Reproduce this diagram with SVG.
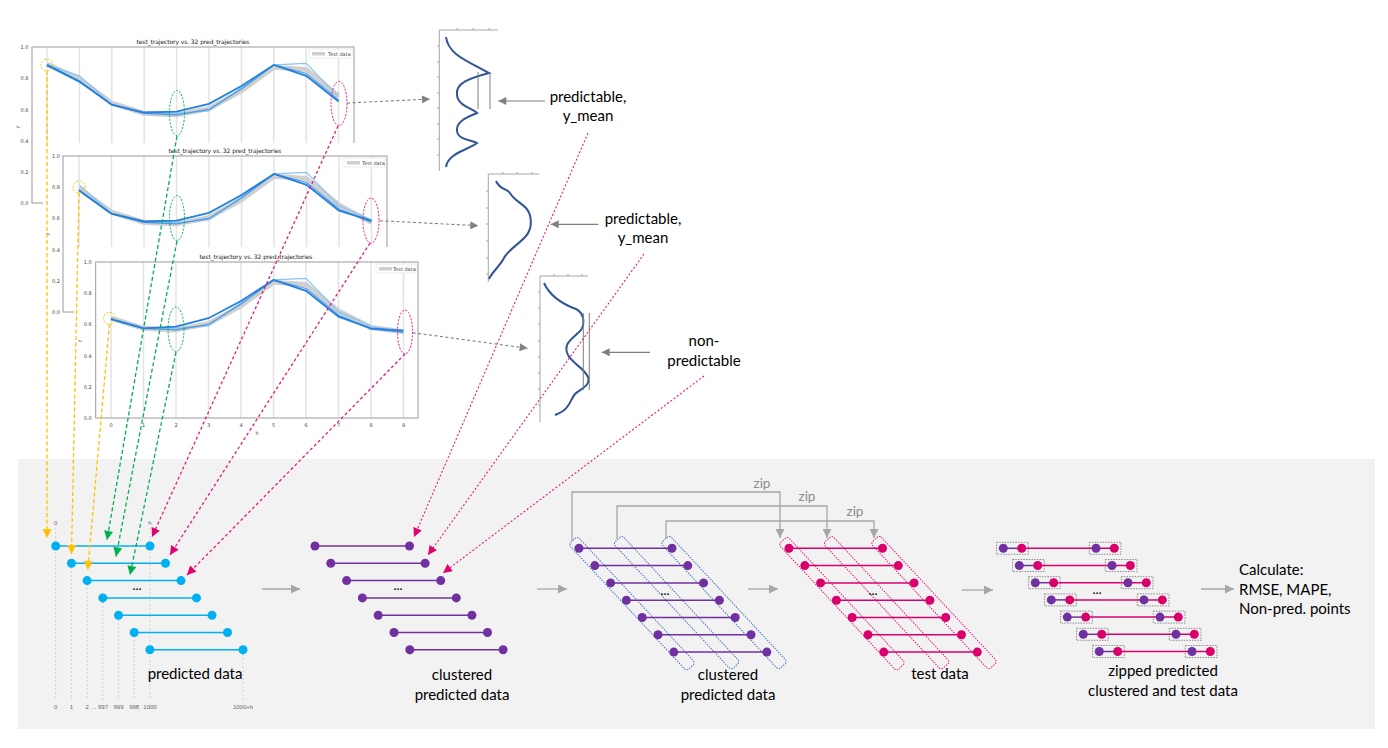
<svg xmlns="http://www.w3.org/2000/svg" width="1388" height="748" viewBox="0 0 1388 748">
<defs>
<style>
.t{font-family:Lato,"Liberation Sans",Arial,sans-serif;fill:#000}
.lbl{font-size:15px}
.zip{font-size:13.5px;fill:#8c8c8c;text-anchor:middle}
.ax{font-family:"DejaVu Sans","Liberation Sans",sans-serif;font-size:5px;fill:#444}
.ttl{font-family:"DejaVu Sans","Liberation Sans",sans-serif;font-size:6px;fill:#222}
.sm{font-family:"Liberation Sans",Arial,sans-serif;font-size:6px;fill:#666;text-anchor:middle}
.frame{fill:none;stroke:#9a9a9a;stroke-width:1}
.grid{stroke:#e3e3e3;stroke-width:1.5}
.band{fill:none;stroke:#cfcfcf;stroke-width:5;stroke-linejoin:round}
.p1{fill:none;stroke:#8cc4f5;stroke-width:1.2}
.p2{fill:none;stroke:#4a9be6;stroke-width:1.2}
.pm{fill:none;stroke:#2180e0;stroke-width:1.8}
.ey{fill:none;stroke:#ffc000;stroke-width:1;stroke-dasharray:2 1.5}
.eg{fill:none;stroke:#00b050;stroke-width:1;stroke-dasharray:2 1.5}
.ep{fill:none;stroke:#e6197d;stroke-width:1;stroke-dasharray:2 1.5}
.dax{fill:none;stroke:#a6a6a6;stroke-width:1}
.dcur{fill:none;stroke:#2f5597;stroke-width:2}
.bl{stroke:#00b0f0;stroke-width:1.5}
.bd{fill:#00b0f0}
.pl{stroke:#7030a0;stroke-width:1.5}
.pd{fill:#7030a0}
.kl{stroke:#d9006c;stroke-width:1.5}
.kd{fill:#d9006c}
.vd{stroke:#c8c8c8;stroke-width:0.8;stroke-dasharray:2 2}
.rb{fill:none;stroke:#4472c4;stroke-width:1;stroke-dasharray:1.5 1.2}
.rk{fill:none;stroke:#e6197d;stroke-width:1;stroke-dasharray:1.5 1.2}
.zb{fill:none;stroke:#7f7f7f;stroke-width:0.9;stroke-dasharray:1.5 1.2}
.ga{stroke:#a6a6a6;stroke-width:1.3;fill:none}
.cy{stroke:#ffc000;stroke-width:1.3;stroke-dasharray:4 2.5;fill:none}
.cg{stroke:#00b050;stroke-width:1.3;stroke-dasharray:4 2.5;fill:none}
.cp{stroke:#e6197d;stroke-width:1.3;stroke-dasharray:3 2.5;fill:none}
.cp2{stroke:#e6197d;stroke-width:1.1;stroke-dasharray:2 2;fill:none}
.cgr{stroke:#808080;stroke-width:1.1;stroke-dasharray:3 2.5;fill:none}
</style>
<marker id="mY" viewBox="0 0 10 10" refX="10" refY="5" markerUnits="userSpaceOnUse" markerWidth="10" markerHeight="9" orient="auto"><path d="M0,0 L10,5 L0,10 z" fill="#ffc000"/></marker>
<marker id="mG" viewBox="0 0 10 10" refX="10" refY="5" markerUnits="userSpaceOnUse" markerWidth="10" markerHeight="9" orient="auto"><path d="M0,0 L10,5 L0,10 z" fill="#00b050"/></marker>
<marker id="mP" viewBox="0 0 10 10" refX="10" refY="5" markerUnits="userSpaceOnUse" markerWidth="10" markerHeight="9" orient="auto"><path d="M0,0 L10,5 L0,10 z" fill="#e0006e"/></marker>
<marker id="mK" viewBox="0 0 10 10" refX="10" refY="5" markerUnits="userSpaceOnUse" markerWidth="9" markerHeight="8" orient="auto"><path d="M0,0 L10,5 L0,10 z" fill="#808080"/></marker>
<marker id="mA" viewBox="0 0 10 10" refX="10" refY="5" markerUnits="userSpaceOnUse" markerWidth="9" markerHeight="9" orient="auto"><path d="M0,0 L10,5 L0,10 z" fill="#a6a6a6"/></marker>
</defs>
<rect width="1388" height="748" fill="#fff"/>
<rect id="panel" x="18" y="459" width="1357" height="270" fill="#f2f2f2"/>

<g id="chart1">
<text class="ttl" x="193" y="44" text-anchor="middle" textLength="113">test_trajectory vs. 32 pred_trajectories</text>
<g class="grid"><line x1="47" y1="47" x2="47" y2="203"/><line x1="79.4" y1="47" x2="79.4" y2="203"/><line x1="111.8" y1="47" x2="111.8" y2="203"/><line x1="144.2" y1="47" x2="144.2" y2="203"/><line x1="176.6" y1="47" x2="176.6" y2="203"/><line x1="209" y1="47" x2="209" y2="203"/><line x1="241.4" y1="47" x2="241.4" y2="203"/><line x1="273.8" y1="47" x2="273.8" y2="203"/><line x1="306.2" y1="47" x2="306.2" y2="203"/><line x1="338.6" y1="47" x2="338.6" y2="203"/></g>
<rect class="frame" x="32" y="47" width="322" height="156"/>
<g class="ax" text-anchor="end"><text x="28.5" y="49">1.0</text><text x="28.5" y="80">0.8</text><text x="28.5" y="111.5">0.6</text><text x="28.5" y="143">0.4</text><text x="28.5" y="174">0.2</text><text x="28.5" y="205">0.0</text></g>
<text class="ax" transform="translate(19,127) rotate(-90)" text-anchor="middle">y</text>
<polyline class="band" points="47,64.2 79.4,79 111.8,103.2 144.2,113.3 176.6,114.9 209,108.6 241.4,90.7 273.8,67.3 306.2,69.6 338.6,96.1"/>
<polyline class="p1" points="47,64.9 79.4,75.9 111.8,104.7 144.2,113.3 176.6,113.3 209,111 241.4,87.6 273.8,64.9 306.2,63.4 338.6,96.9"/>
<polyline class="p2" points="47,65.7 79.4,82.1 111.8,104.7 144.2,113.3 176.6,114.9 209,109.4 241.4,89.1 273.8,64.9 306.2,73.5 338.6,100"/>
<polyline class="pm" points="47,64.9 79.4,81.3 111.8,104.7 144.2,112.5 176.6,111.7 209,103.9 241.4,86 273.8,64.9 306.2,75.9 338.6,101.6"/>
<rect x="309" y="49" width="44" height="9" fill="#fff" stroke="#ddd" stroke-width="0.6"/>
<rect x="312" y="52" width="13" height="3.5" fill="#cfcfcf"/>
<text class="ax" x="328" y="56">Test data</text>
<circle class="ey" cx="47" cy="65" r="6"/>
<ellipse class="eg" cx="177" cy="113" rx="7.5" ry="22.5"/>
<ellipse class="ep" cx="339" cy="103.5" rx="8" ry="22"/>
</g>

<g id="chart2">
<rect x="43" y="143" width="347" height="180" fill="#fff"/>
<text class="ttl" x="225" y="152.5" text-anchor="middle" textLength="113">test_trajectory vs. 32 pred_trajectories</text>
<g class="grid"><line x1="79" y1="156" x2="79" y2="312"/><line x1="111.5" y1="156" x2="111.5" y2="312"/><line x1="144" y1="156" x2="144" y2="312"/><line x1="176.5" y1="156" x2="176.5" y2="312"/><line x1="209" y1="156" x2="209" y2="312"/><line x1="241.5" y1="156" x2="241.5" y2="312"/><line x1="274" y1="156" x2="274" y2="312"/><line x1="306.5" y1="156" x2="306.5" y2="312"/><line x1="339" y1="156" x2="339" y2="312"/><line x1="371.5" y1="156" x2="371.5" y2="312"/></g>
<rect class="frame" x="63" y="156" width="324" height="156"/>
<g class="ax" text-anchor="end"><text x="60" y="158">1.0</text><text x="60" y="189">0.8</text><text x="60" y="220">0.6</text><text x="60" y="252">0.4</text><text x="60" y="283">0.2</text><text x="60" y="314">0.0</text></g>
<text class="ax" transform="translate(49,234) rotate(-90)" text-anchor="middle">y</text>
<polyline class="band" points="79,188 111.5,212.2 144,222.3 176.5,223.9 209,217.6 241.5,199.7 274,176.3 306.5,178.6 339,205.1 371.5,222.3"/>
<polyline class="p1" points="79,184.9 111.5,213.7 144,222.3 176.5,222.3 209,220 241.5,196.6 274,173.9 306.5,172.4 339,205.9 371.5,220"/>
<polyline class="p2" points="79,191.1 111.5,213.7 144,222.3 176.5,223.9 209,218.4 241.5,198.1 274,173.9 306.5,182.5 339,209 371.5,222.3"/>
<polyline class="pm" points="79,190.3 111.5,213.7 144,221.5 176.5,220.7 209,212.9 241.5,195 274,173.9 306.5,184.9 339,210.6 371.5,220.7"/>
<rect x="344" y="158" width="41" height="9" fill="#fff" stroke="#ddd" stroke-width="0.6"/>
<rect x="347" y="161" width="13" height="3.5" fill="#cfcfcf"/>
<text class="ax" x="362" y="165">Test data</text>
<circle class="ey" cx="79" cy="187" r="6"/>
<ellipse class="eg" cx="177" cy="218" rx="7.5" ry="22.5"/>
<ellipse class="ep" cx="371" cy="220.5" rx="8" ry="22.5"/>
</g>

<g id="chart3">
<rect x="74" y="247" width="352" height="192" fill="#fff"/>
<text class="ttl" x="256" y="258.5" text-anchor="middle" textLength="113">test_trajectory vs. 32 pred_trajectories</text>
<g class="grid"><line x1="111" y1="262" x2="111" y2="418"/><line x1="143.5" y1="262" x2="143.5" y2="418"/><line x1="176" y1="262" x2="176" y2="418"/><line x1="208.5" y1="262" x2="208.5" y2="418"/><line x1="241" y1="262" x2="241" y2="418"/><line x1="273.5" y1="262" x2="273.5" y2="418"/><line x1="306" y1="262" x2="306" y2="418"/><line x1="338.5" y1="262" x2="338.5" y2="418"/><line x1="371" y1="262" x2="371" y2="418"/><line x1="403.5" y1="262" x2="403.5" y2="418"/></g>
<rect class="frame" x="95.7" y="262" width="322.3" height="156"/>
<g class="ax" text-anchor="end"><text x="91.7" y="264">1.0</text><text x="91.7" y="295">0.8</text><text x="91.7" y="326">0.6</text><text x="91.7" y="358">0.4</text><text x="91.7" y="389">0.2</text><text x="91.7" y="420">0.0</text></g>
<text class="ax" transform="translate(81,341) rotate(-90)" text-anchor="middle">y</text>
<g class="ax" text-anchor="middle"><text x="111" y="426.5">0</text><text x="143.5" y="426.5">1</text><text x="176" y="426.5">2</text><text x="208.5" y="426.5">3</text><text x="241" y="426.5">4</text><text x="273.5" y="426.5">5</text><text x="306" y="426.5">6</text><text x="338.5" y="426.5">7</text><text x="371" y="426.5">8</text><text x="403.5" y="426.5">9</text><text x="257" y="435">h</text></g>
<polyline class="band" points="111,318.2 143.5,328.3 176,329.9 208.5,323.6 241,305.7 273.5,282.3 306,284.6 338.5,311.1 371,327.5 403.5,331.8"/>
<polyline class="p1" points="111,318.9 143.5,327.5 176,328.3 208.5,326 241,302.6 273.5,279.9 306,278.4 338.5,311.9 371,326 403.5,333"/>
<polyline class="p2" points="111,319.7 143.5,328.3 176,329.9 208.5,324.4 241,304.1 273.5,279.9 306,288.5 338.5,315 371,329.1 403.5,332.2"/>
<polyline class="pm" points="111,318.9 143.5,328.3 176,326.7 208.5,318.2 241,301 273.5,279.9 306,290.9 338.5,316.6 371,328.3 403.5,330.6"/>
<rect x="376" y="264" width="40" height="9" fill="#fff" stroke="#ddd" stroke-width="0.6"/>
<rect x="379" y="267" width="13" height="3.5" fill="#cfcfcf"/>
<text class="ax" x="393" y="271">Test data</text>
<circle class="ey" cx="109.5" cy="318.3" r="6"/>
<ellipse class="eg" cx="176" cy="329.3" rx="8" ry="22.3"/>
<ellipse class="ep" cx="405" cy="332" rx="7.5" ry="22"/>
</g>

<g id="density1">
<path class="dax" d="M439.3,30 V171 M439.3,30 H498 M457,28 V30 M473,28 V30 M489,28 V30 M437,46 H439 M437,62 H439 M437,77 H439 M437,93 H439 M437,108 H439 M437,124 H439 M437,139 H439 M437,155 H439"/>
<path class="dcur" d="M446,37 C448,55 470,62 489,73 C470,78 455,83 457,95 C458,106 472,108 477,113 C465,118 456,122 457,131 C458,140 472,140 477,143 C468,150 448,153 446,167"/>
<path d="M478,72 V109 M490,72 V109" stroke="#7f7f7f" stroke-width="1"/>
<text class="t lbl" x="588" y="102" text-anchor="middle">predictable,</text>
<text class="t lbl" x="588" y="121" text-anchor="middle">y_mean</text>
</g>
<g id="density2">
<path class="dax" d="M488.3,174 V282 M488.3,174 H539 M503,172 V174 M517,172 V174 M531.7,172 V174 M486,191 H488 M486,208 H488 M486,224 H488 M486,241 H488 M486,258 H488 M486,274 H488"/>
<path class="dcur" d="M496,181 C500,190 506,188 510,193 C514,200 520,202 526,208 C532,215 533,228 526,236 C518,245 508,250 504,258 C500,266 492,272 489,279"/>
<text class="t lbl" x="643" y="224" text-anchor="middle">predictable,</text>
<text class="t lbl" x="643" y="243" text-anchor="middle">y_mean</text>
</g>
<g id="density3">
<path class="dax" d="M540,276 V422 M540,276 H588 M554,274 V276 M568,274 V276 M582,274 V276 M538,292 H540 M538,308 H540 M538,324 H540 M538,341 H540 M538,357 H540 M538,373 H540 M538,389 H540 M538,405 H540"/>
<path class="dcur" d="M544,283 C550,296 562,304 576,309 C586,314 585,328 578,333 C570,340 563,345 568,355 C573,364 584,368 588,377 C591,386 580,389 575,394 C570,400 570,410 555,415"/>
<path d="M583.3,313 V390 M589.3,313 V390" stroke="#7f7f7f" stroke-width="1"/>
<text class="t lbl" x="704" y="346" text-anchor="middle">non-</text>
<text class="t lbl" x="704" y="365.5" text-anchor="middle">predictable</text>
</g>

<g id="predicted">
<path class="vd" d="M55.7,528 V700 M150,528 V700 M71.4,563 V700 M87.1,580 V700 M102.8,598 V700 M118.5,615 V700 M134.2,632 V700 M243,650 V700"/>
<text class="sm" x="55.7" y="525">0</text><text class="sm" x="150" y="525">h</text>
<g class="sm"><text x="55.7" y="709">0</text><text x="71.4" y="709">1</text><text x="87.1" y="709">2</text><text x="94" y="709">...</text><text x="103" y="709">997</text><text x="118.5" y="709">999</text><text x="134.2" y="709">998</text><text x="150" y="709">1000</text><text x="243" y="709">1000+h</text></g>
<g class="bl"><line x1="55.7" y1="546" x2="150" y2="546"/><line x1="71.4" y1="563.3" x2="165.5" y2="563.3"/><line x1="87.1" y1="580.6" x2="181" y2="580.6"/><line x1="102.8" y1="597.9" x2="196.5" y2="597.9"/><line x1="118.5" y1="615.2" x2="212" y2="615.2"/><line x1="134.2" y1="632.5" x2="227.5" y2="632.5"/><line x1="149.9" y1="649.8" x2="243" y2="649.8"/></g>
<g class="bd"><circle cx="55.7" cy="546" r="4.5"/><circle cx="150" cy="546" r="4.5"/><circle cx="71.4" cy="563.3" r="4.5"/><circle cx="165.5" cy="563.3" r="4.5"/><circle cx="87.1" cy="580.6" r="4.5"/><circle cx="181" cy="580.6" r="4.5"/><circle cx="102.8" cy="597.9" r="4.5"/><circle cx="196.5" cy="597.9" r="4.5"/><circle cx="118.5" cy="615.2" r="4.5"/><circle cx="212" cy="615.2" r="4.5"/><circle cx="134.2" cy="632.5" r="4.5"/><circle cx="227.5" cy="632.5" r="4.5"/><circle cx="149.9" cy="649.8" r="4.5"/><circle cx="243" cy="649.8" r="4.5"/></g>
<text class="t" x="137" y="590" font-size="13" text-anchor="middle">...</text>
<text class="t lbl" x="195" y="678.5" text-anchor="middle">predicted data</text>
</g>

<g id="clustered1">
<g class="pl"><line x1="315" y1="546" x2="409.5" y2="546"/><line x1="330.8" y1="563.3" x2="425.1" y2="563.3"/><line x1="346.6" y1="580.6" x2="440.7" y2="580.6"/><line x1="362.4" y1="597.9" x2="456.3" y2="597.9"/><line x1="378.2" y1="615.2" x2="471.9" y2="615.2"/><line x1="394" y1="632.5" x2="487.5" y2="632.5"/><line x1="409.8" y1="649.8" x2="503.1" y2="649.8"/></g>
<g class="pd"><circle cx="315" cy="546" r="4.5"/><circle cx="409.5" cy="546" r="4.5"/><circle cx="330.8" cy="563.3" r="4.5"/><circle cx="425.1" cy="563.3" r="4.5"/><circle cx="346.6" cy="580.6" r="4.5"/><circle cx="440.7" cy="580.6" r="4.5"/><circle cx="362.4" cy="597.9" r="4.5"/><circle cx="456.3" cy="597.9" r="4.5"/><circle cx="378.2" cy="615.2" r="4.5"/><circle cx="471.9" cy="615.2" r="4.5"/><circle cx="394" cy="632.5" r="4.5"/><circle cx="487.5" cy="632.5" r="4.5"/><circle cx="409.8" cy="649.8" r="4.5"/><circle cx="503.1" cy="649.8" r="4.5"/></g>
<text class="t" x="398" y="590" font-size="13" text-anchor="middle">...</text>
<text class="t lbl" x="462" y="679.5" text-anchor="middle">clustered</text>
<text class="t lbl" x="462" y="700" text-anchor="middle">predicted data</text>
</g>

<g id="clustered2">
<rect class="rb" x="-86.5" y="-6" width="173" height="12" rx="3" transform="translate(632,603.7) rotate(47)"/>
<rect class="rb" x="-86.5" y="-6" width="173" height="12" rx="3" transform="translate(676.6,602.7) rotate(47)"/>
<rect class="rb" x="-86.5" y="-6" width="173" height="12" rx="3" transform="translate(724,602.5) rotate(47)"/>
<g class="pl"><line x1="579" y1="548.3" x2="672" y2="548.3"/><line x1="594.8" y1="565.6" x2="687.8" y2="565.6"/><line x1="610.6" y1="582.9" x2="703.6" y2="582.9"/><line x1="626.4" y1="600.2" x2="719.4" y2="600.2"/><line x1="642.2" y1="617.5" x2="735.2" y2="617.5"/><line x1="658" y1="634.8" x2="751" y2="634.8"/><line x1="673.8" y1="652.1" x2="766.8" y2="652.1"/></g>
<g class="pd"><circle cx="579" cy="548.3" r="4.5"/><circle cx="672" cy="548.3" r="4.5"/><circle cx="594.8" cy="565.6" r="4.5"/><circle cx="687.8" cy="565.6" r="4.5"/><circle cx="610.6" cy="582.9" r="4.5"/><circle cx="703.6" cy="582.9" r="4.5"/><circle cx="626.4" cy="600.2" r="4.5"/><circle cx="719.4" cy="600.2" r="4.5"/><circle cx="642.2" cy="617.5" r="4.5"/><circle cx="735.2" cy="617.5" r="4.5"/><circle cx="658" cy="634.8" r="4.5"/><circle cx="751" cy="634.8" r="4.5"/><circle cx="673.8" cy="652.1" r="4.5"/><circle cx="766.8" cy="652.1" r="4.5"/></g>
<text class="t" x="665" y="595" font-size="13" text-anchor="middle">...</text>
<text class="t lbl" x="728" y="679.5" text-anchor="middle">clustered</text>
<text class="t lbl" x="728" y="700" text-anchor="middle">predicted data</text>
</g>

<g id="testdata">
<rect class="rk" x="-86.5" y="-6" width="173" height="12" rx="3" transform="translate(842,603.7) rotate(47)"/>
<rect class="rk" x="-86.5" y="-6" width="173" height="12" rx="3" transform="translate(886.6,602.7) rotate(47)"/>
<rect class="rk" x="-86.5" y="-6" width="173" height="12" rx="3" transform="translate(934,602.5) rotate(47)"/>
<g class="kl"><line x1="789" y1="548.3" x2="882.5" y2="548.3"/><line x1="804.8" y1="565.6" x2="898.3" y2="565.6"/><line x1="820.6" y1="582.9" x2="914.1" y2="582.9"/><line x1="836.4" y1="600.2" x2="929.9" y2="600.2"/><line x1="852.2" y1="617.5" x2="945.7" y2="617.5"/><line x1="868" y1="634.8" x2="961.5" y2="634.8"/><line x1="883.8" y1="652.1" x2="977.3" y2="652.1"/></g>
<g class="kd"><circle cx="789" cy="548.3" r="4.5"/><circle cx="882.5" cy="548.3" r="4.5"/><circle cx="804.8" cy="565.6" r="4.5"/><circle cx="898.3" cy="565.6" r="4.5"/><circle cx="820.6" cy="582.9" r="4.5"/><circle cx="914.1" cy="582.9" r="4.5"/><circle cx="836.4" cy="600.2" r="4.5"/><circle cx="929.9" cy="600.2" r="4.5"/><circle cx="852.2" cy="617.5" r="4.5"/><circle cx="945.7" cy="617.5" r="4.5"/><circle cx="868" cy="634.8" r="4.5"/><circle cx="961.5" cy="634.8" r="4.5"/><circle cx="883.8" cy="652.1" r="4.5"/><circle cx="977.3" cy="652.1" r="4.5"/></g>
<text class="t" x="873" y="595" font-size="13" text-anchor="middle">...</text>
<text class="t lbl" x="940" y="679" text-anchor="middle">test data</text>
</g>

<g id="zipped">
<g class="zb">
<rect x="996.6" y="542.3" width="31.7" height="12"/><rect x="1089.3" y="542.3" width="31.7" height="12"/>
<rect x="1012.6" y="559.5" width="31.7" height="12"/><rect x="1105.3" y="559.5" width="31.7" height="12"/>
<rect x="1028.6" y="576.7" width="31.7" height="12"/><rect x="1121.3" y="576.7" width="31.7" height="12"/>
<rect x="1044.6" y="593.9" width="31.7" height="12"/><rect x="1137.3" y="593.9" width="31.7" height="12"/>
<rect x="1060.6" y="611.1" width="31.7" height="12"/><rect x="1153.3" y="611.1" width="31.7" height="12"/>
<rect x="1076.6" y="628.3" width="31.7" height="12"/><rect x="1169.3" y="628.3" width="31.7" height="12"/>
<rect x="1092.6" y="645.5" width="31.7" height="12"/><rect x="1185.3" y="645.5" width="31.7" height="12"/>
</g>
<g class="kl"><line x1="1021.7" y1="548.3" x2="1114.3" y2="548.3"/><line x1="1037.7" y1="565.5" x2="1130.3" y2="565.5"/><line x1="1053.7" y1="582.7" x2="1146.3" y2="582.7"/><line x1="1069.7" y1="599.9" x2="1162.3" y2="599.9"/><line x1="1085.7" y1="617.1" x2="1178.3" y2="617.1"/><line x1="1101.7" y1="634.3" x2="1194.3" y2="634.3"/><line x1="1117.7" y1="651.5" x2="1210.3" y2="651.5"/></g>
<g class="pl"><line x1="1003.3" y1="548.3" x2="1021.7" y2="548.3"/><line x1="1019.3" y1="565.5" x2="1037.7" y2="565.5"/><line x1="1035.3" y1="582.7" x2="1053.7" y2="582.7"/><line x1="1051.3" y1="599.9" x2="1069.7" y2="599.9"/><line x1="1067.3" y1="617.1" x2="1085.7" y2="617.1"/><line x1="1083.3" y1="634.3" x2="1101.7" y2="634.3"/><line x1="1099.3" y1="651.5" x2="1117.7" y2="651.5"/></g>
<g class="pd"><circle cx="1003.3" cy="548.3" r="4.5"/><circle cx="1096" cy="548.3" r="4.5"/><circle cx="1019.3" cy="565.5" r="4.5"/><circle cx="1112" cy="565.5" r="4.5"/><circle cx="1035.3" cy="582.7" r="4.5"/><circle cx="1128" cy="582.7" r="4.5"/><circle cx="1051.3" cy="599.9" r="4.5"/><circle cx="1144" cy="599.9" r="4.5"/><circle cx="1067.3" cy="617.1" r="4.5"/><circle cx="1160" cy="617.1" r="4.5"/><circle cx="1083.3" cy="634.3" r="4.5"/><circle cx="1176" cy="634.3" r="4.5"/><circle cx="1099.3" cy="651.5" r="4.5"/><circle cx="1192" cy="651.5" r="4.5"/></g>
<g class="kd"><circle cx="1021.7" cy="548.3" r="4.5"/><circle cx="1114.3" cy="548.3" r="4.5"/><circle cx="1037.7" cy="565.5" r="4.5"/><circle cx="1130.3" cy="565.5" r="4.5"/><circle cx="1053.7" cy="582.7" r="4.5"/><circle cx="1146.3" cy="582.7" r="4.5"/><circle cx="1069.7" cy="599.9" r="4.5"/><circle cx="1162.3" cy="599.9" r="4.5"/><circle cx="1085.7" cy="617.1" r="4.5"/><circle cx="1178.3" cy="617.1" r="4.5"/><circle cx="1101.7" cy="634.3" r="4.5"/><circle cx="1194.3" cy="634.3" r="4.5"/><circle cx="1117.7" cy="651.5" r="4.5"/><circle cx="1210.3" cy="651.5" r="4.5"/></g>
<text class="t" x="1097" y="594" font-size="13" text-anchor="middle">...</text>
<text class="t lbl" x="1163" y="676" text-anchor="middle">zipped predicted</text>
<text class="t lbl" x="1163" y="696" text-anchor="middle">clustered and test data</text>
</g>

<g id="calculate">
<text class="t lbl" x="1239" y="574.5">Calculate:</text>
<text class="t lbl" x="1239" y="594.5">RMSE, MAPE,</text>
<text class="t lbl" x="1239" y="614">Non-pred. points</text>
</g>

<g id="connectors">
<line class="cy" x1="47" y1="71" x2="47" y2="538" marker-end="url(#mY)"/>
<line class="cy" x1="79" y1="193" x2="71.5" y2="554" marker-end="url(#mY)"/>
<line class="cy" x1="109.5" y1="324.3" x2="87.7" y2="570" marker-end="url(#mY)"/>
<line class="cg" x1="177" y1="136" x2="107" y2="540" marker-end="url(#mG)"/>
<line class="cg" x1="177" y1="241" x2="116" y2="556.5" marker-end="url(#mG)"/>
<line class="cg" x1="176" y1="352" x2="130" y2="575" marker-end="url(#mG)"/>
<line class="cp" x1="338" y1="126" x2="152" y2="537" marker-end="url(#mP)"/>
<line class="cp" x1="370" y1="243" x2="170" y2="555" marker-end="url(#mP)"/>
<line class="cp" x1="405" y1="354" x2="187" y2="575" marker-end="url(#mP)"/>
<line class="cp2" x1="588" y1="133" x2="414" y2="537" marker-end="url(#mP)"/>
<line class="cp2" x1="644" y1="254" x2="428" y2="555" marker-end="url(#mP)"/>
<line class="cp2" x1="704" y1="376" x2="443" y2="573" marker-end="url(#mP)"/>
<line class="cgr" x1="347" y1="103" x2="430" y2="99" marker-end="url(#mK)"/>
<line class="cgr" x1="380" y1="220.7" x2="478.3" y2="225.7" marker-end="url(#mK)"/>
<line class="cgr" x1="412.7" y1="332.7" x2="527.7" y2="348.3" marker-end="url(#mK)"/>
<line stroke="#7f7f7f" stroke-width="1.2" x1="545" y1="101" x2="498.3" y2="101" marker-end="url(#mK)"/>
<line stroke="#7f7f7f" stroke-width="1.2" x1="598.3" y1="224.3" x2="550.7" y2="224.3" marker-end="url(#mK)"/>
<line stroke="#7f7f7f" stroke-width="1.2" x1="650" y1="352.3" x2="601.7" y2="352.3" marker-end="url(#mK)"/>
<line class="ga" x1="262" y1="589" x2="300" y2="589" marker-end="url(#mA)"/>
<line class="ga" x1="537" y1="589" x2="567" y2="589" marker-end="url(#mA)"/>
<line class="ga" x1="748" y1="589" x2="778" y2="589" marker-end="url(#mA)"/>
<line class="ga" x1="962" y1="590" x2="993" y2="590" marker-end="url(#mA)"/>
<line class="ga" x1="1201" y1="589" x2="1234" y2="589" marker-end="url(#mA)"/>
<path class="ga" d="M572,541 V492 H780 V538" marker-end="url(#mA)"/>
<path class="ga" d="M617,539 V506 H827 V538" marker-end="url(#mA)"/>
<path class="ga" d="M666,539 V521 H874 V538" marker-end="url(#mA)"/>
<text class="t zip" x="762" y="487.5">zip</text>
<text class="t zip" x="807" y="501">zip</text>
<text class="t zip" x="855" y="516">zip</text>
</g>
</svg>
